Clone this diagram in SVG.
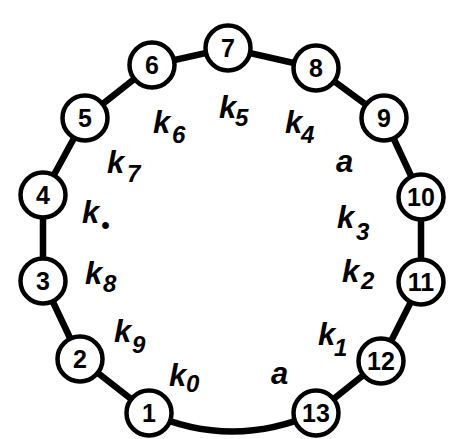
<svg xmlns="http://www.w3.org/2000/svg" width="449" height="439" viewBox="0 0 449 439">
<style>
.edge{stroke:#000;stroke-width:6.5;fill:none;stroke-linecap:round}
.node circle{fill:#fff;stroke:#000;stroke-width:4.5}
.node text{font-family:"Liberation Sans",Arial,sans-serif;font-weight:bold;font-size:25px;text-anchor:middle}
.lbl{font-family:"Liberation Sans",Arial,sans-serif;font-style:italic;font-weight:bold;font-size:31px;fill:#000}
.sub{font-size:24px}
</style>
<rect width="449" height="439" fill="#fff"/>
<g id="connectors">
<path class="edge" d="M80,359 L43,281 L43,195 L85,118 L152,65 L228,48 L316,68 L384,118 L421,197 L421,282 L381,361 L316,413 M149,413 L80,359"/>
<path class="edge" d="M149,413 Q232,450 316,413"/>
</g>
<g id="n1" class="node"><circle cx="149" cy="413" r="22.5"/><text x="149" y="422">1</text></g>
<g id="n2" class="node"><circle cx="80" cy="359" r="22.5"/><text x="80" y="368">2</text></g>
<g id="n3" class="node"><circle cx="43" cy="281" r="22.5"/><text x="43" y="290">3</text></g>
<g id="n4" class="node"><circle cx="43" cy="195" r="22.5"/><text x="43" y="204">4</text></g>
<g id="n5" class="node"><circle cx="85" cy="118" r="22.5"/><text x="85" y="127">5</text></g>
<g id="n6" class="node"><circle cx="152" cy="65" r="22.5"/><text x="152" y="74">6</text></g>
<g id="n7" class="node"><circle cx="228" cy="48" r="22.5"/><text x="228" y="57">7</text></g>
<g id="n8" class="node"><circle cx="316" cy="68" r="22.5"/><text x="316" y="77">8</text></g>
<g id="n9" class="node"><circle cx="384" cy="118" r="22.5"/><text x="384" y="127">9</text></g>
<g id="n10" class="node"><circle cx="421" cy="197" r="22.5"/><text x="421" y="206">10</text></g>
<g id="n11" class="node"><circle cx="421" cy="282" r="22.5"/><text x="421" y="291">11</text></g>
<g id="n12" class="node"><circle cx="381" cy="361" r="22.5"/><text x="381" y="370">12</text></g>
<g id="n13" class="node"><circle cx="316" cy="413" r="22.5"/><text x="316" y="422">13</text></g>
<g id="labels">
<text class="lbl" x="153" y="133">k<tspan class="sub" x="172" y="143">6</tspan></text>
<text class="lbl" x="219" y="118">k<tspan class="sub" x="235" y="126">5</tspan></text>
<text class="lbl" x="285" y="133">k<tspan class="sub" x="301" y="143">4</tspan></text>
<text class="lbl" x="107" y="173">k<tspan class="sub" x="127" y="182">7</tspan></text>
<text class="lbl" x="82" y="223">k<tspan class="sub" x="101" y="233">•</tspan></text>
<text class="lbl" x="85" y="284">k<tspan class="sub" x="103" y="292">8</tspan></text>
<text class="lbl" x="114" y="342">k<tspan class="sub" x="132" y="353">9</tspan></text>
<text class="lbl" x="169" y="386">k<tspan class="sub" x="186" y="392">0</tspan></text>
<text class="lbl" x="337" y="228">k<tspan class="sub" x="356" y="240">3</tspan></text>
<text class="lbl" x="342" y="282">k<tspan class="sub" x="361" y="289">2</tspan></text>
<text class="lbl" x="318" y="345">k<tspan class="sub" x="334" y="356">1</tspan></text>
<text class="lbl" x="336" y="172">a</text>
<text class="lbl" x="271" y="384">a</text>
</g>
</svg>
